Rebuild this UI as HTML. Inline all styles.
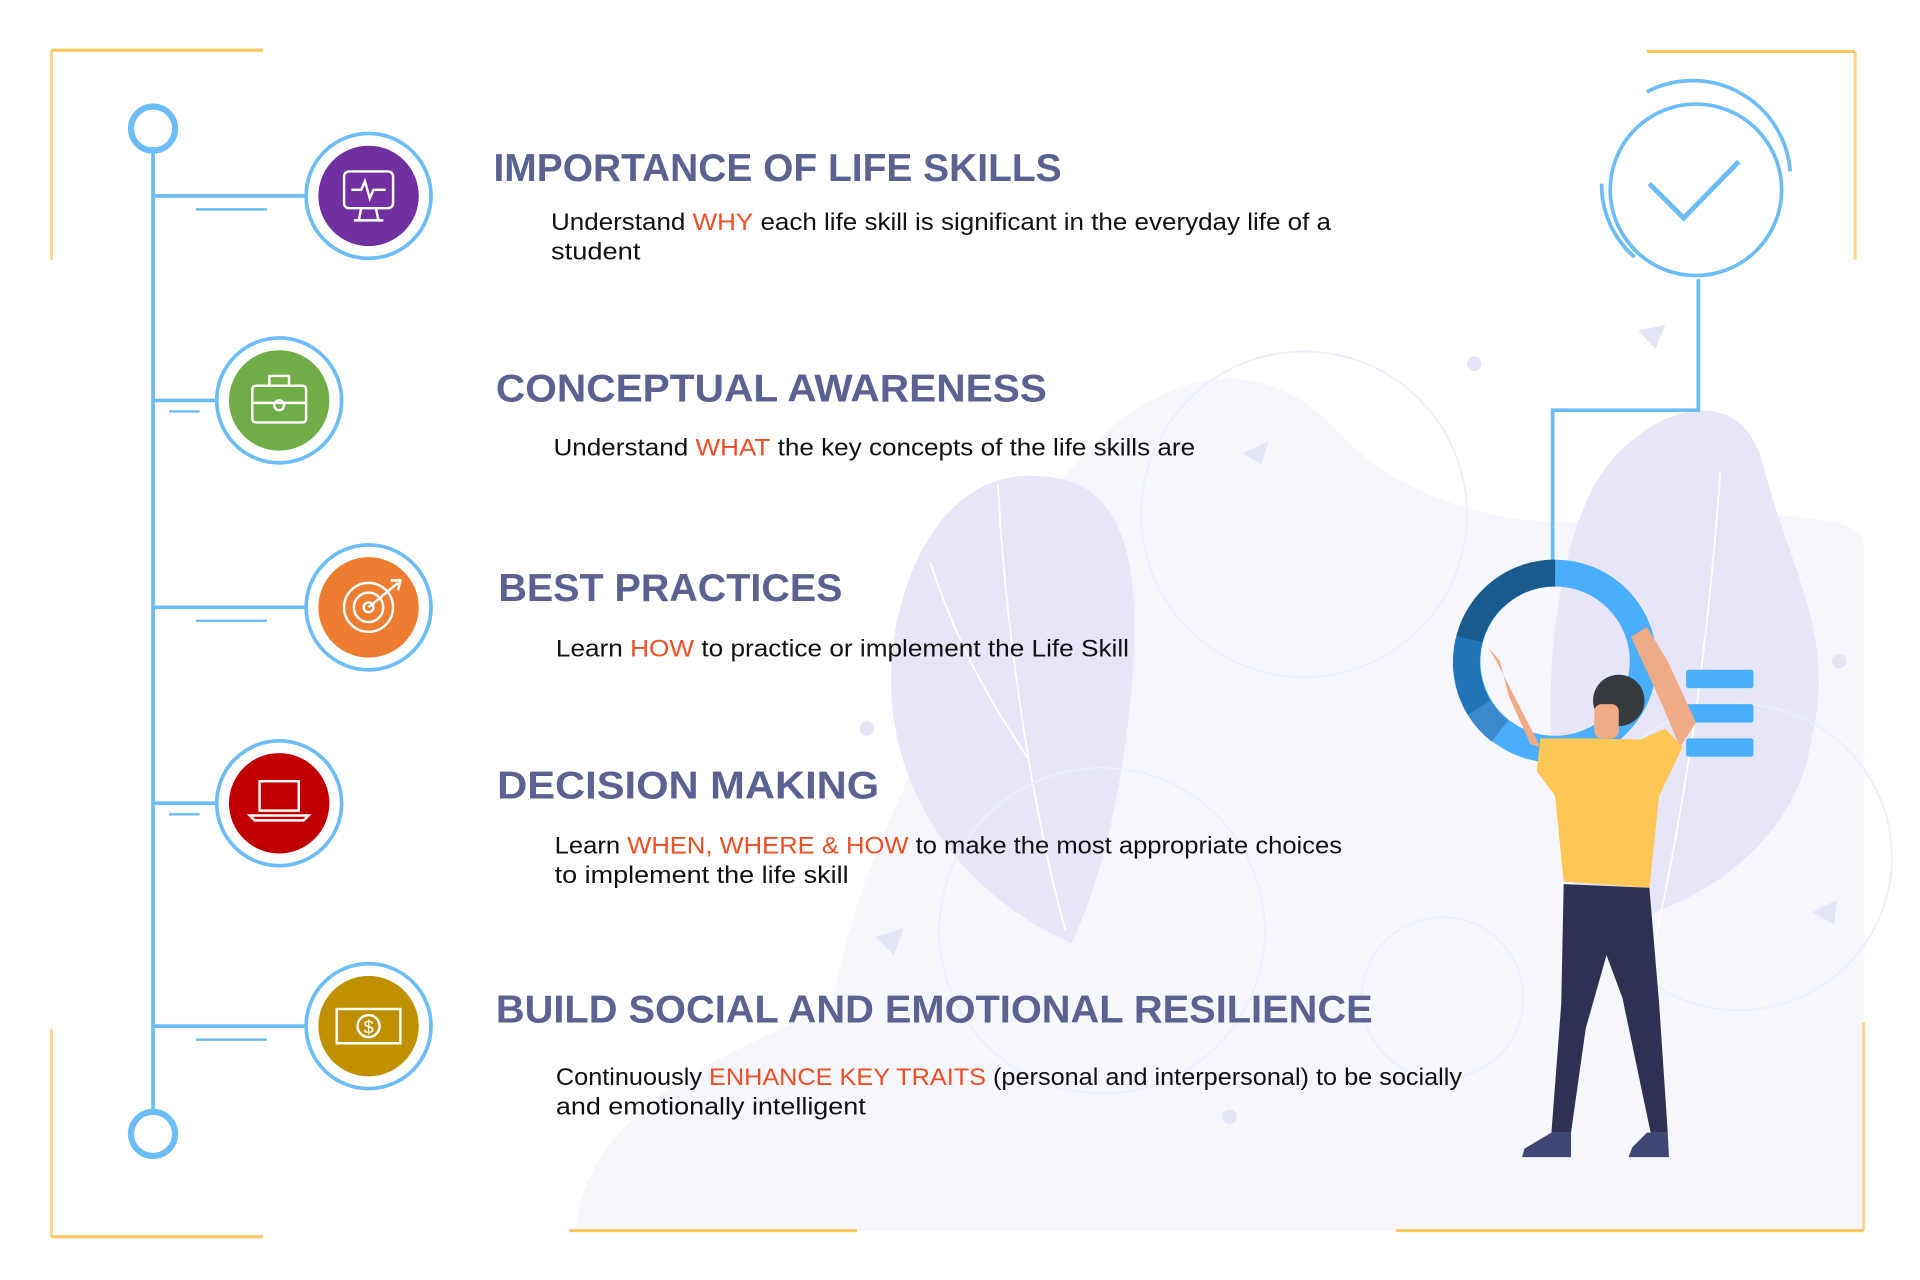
<!DOCTYPE html>
<html><head><meta charset="utf-8"><style>
html,body{margin:0;padding:0;background:#fff}
svg{display:block}
text{font-family:"Liberation Sans",sans-serif}
.t{font-size:32px;fill:#5b6190;font-weight:bold}
.b{font-size:19.5px;fill:#111}
.h{fill:#f04e23}
</style></head><body>
<svg width="1920" height="1280" viewBox="0 0 1568 1045.33" preserveAspectRatio="none" xmlns="http://www.w3.org/2000/svg">
<rect width="1568" height="1046" fill="#fff"/>
<path d="M470 1005 C480 900 600 860 680 820 C700 700 760 600 850 420 C900 330 1000 270 1080 340 C1150 420 1250 440 1380 420 C1450 420 1510 420 1522 440 L1522 1005 Z" fill="#f6f7fd"/>
<path d="M875 770 C760 720 700 600 740 480 C760 420 800 380 860 390 C940 400 930 520 920 600 C910 680 890 740 875 770Z" fill="#e7e6f9"/>
<path d="M840 620 C800 560 780 520 760 460 M815 395 C820 500 840 650 870 760" stroke="#fff" stroke-width="1.5" fill="none"/>
<path d="M1300 760 C1250 650 1260 480 1300 400 C1330 340 1420 300 1440 380 C1460 460 1500 520 1480 600 C1470 680 1400 740 1300 760Z" fill="#e7e6f9"/>
<path d="M1405 385 C1395 520 1380 650 1340 820" stroke="#fff" stroke-width="1.5" fill="none"/>
<circle cx="1065" cy="420" r="133" fill="none" stroke="#eceefa" stroke-width="1.5"/>
<circle cx="900" cy="760" r="133" fill="none" stroke="#eceefa" stroke-width="1.5"/>
<circle cx="1178" cy="815" r="66" fill="none" stroke="#eceefa" stroke-width="1.5"/>
<circle cx="1420" cy="700" r="125" fill="none" stroke="#eceefa" stroke-width="1.5"/>
<circle cx="1204" cy="297" r="6" fill="#e3e4f6"/><circle cx="1004" cy="912" r="6" fill="#e3e4f6"/><circle cx="708" cy="595" r="6" fill="#e3e4f6"/><circle cx="1502" cy="540" r="6" fill="#e3e4f6"/>
<path d="M1338 270 L1360 265 L1352 285Z" fill="#e3e4f6"/><path d="M1015 370 L1036 360 L1030 380Z" fill="#e3e4f6"/><path d="M715 765 L738 758 L730 780Z" fill="#e3e4f6"/><path d="M1480 745 L1500 735 L1498 755Z" fill="#e3e4f6"/>
<g stroke-width="2.5" fill="none" stroke="#fbc45c">
<path d="M42 41 H215"/><path d="M42 41 V212" stroke-opacity="0.7"/>
<path d="M1345 42 H1515"/><path d="M1515 42 V212" stroke-opacity="0.7"/>
<path d="M42 1010 H215"/><path d="M42 840 V1010" stroke-opacity="0.7"/>
<path d="M1522 835 V1005" stroke-opacity="0.7"/><path d="M1140 1005 H1522"/><path d="M465 1005 H700"/>
</g>
<g stroke="#6cbcf5" stroke-width="3" fill="none">
<line x1="125" y1="120" x2="125" y2="910"/>
<circle cx="125" cy="105" r="18" stroke-width="5"/><circle cx="125" cy="926" r="18" stroke-width="5"/>
<path d="M125 160 H249"/><path d="M160 171 H218" stroke-width="2"/>
<path d="M125 327 H176"/><path d="M138 336 H163" stroke-width="2"/>
<path d="M125 496 H249"/><path d="M160 507 H218" stroke-width="2"/>
<path d="M125 656 H176"/><path d="M138 665 H163" stroke-width="2"/>
<path d="M125 838 H249"/><path d="M160 849 H218" stroke-width="2"/>
</g>
<g>
<g transform="translate(301,160)"><circle r="51" fill="none" stroke="#6cbcf5" stroke-width="3"/><circle r="41" fill="#7030a0"/>
<rect x="-20" y="-20" width="40" height="30" rx="4" fill="none" stroke="#fff" stroke-width="2"/><path d="M-6 10 L-8 20 M6 10 L8 20 M-12 20 H12 M-14 -5 H-6 L-3 -12 L1 2 L4 -5 H14" stroke="#fff" stroke-width="2" fill="none"/></g>
<g transform="translate(228,327)"><circle r="51" fill="none" stroke="#6cbcf5" stroke-width="3"/><circle r="41" fill="#70ad47"/>
<rect x="-22" y="-12" width="44" height="30" rx="3" fill="none" stroke="#fff" stroke-width="2"/><rect x="-8" y="-20" width="16" height="8" fill="none" stroke="#fff" stroke-width="2"/><path d="M-22 2 H22" stroke="#fff" stroke-width="2"/><circle r="4" cy="4" fill="none" stroke="#fff" stroke-width="2"/></g>
<g transform="translate(301,496)"><circle r="51" fill="none" stroke="#6cbcf5" stroke-width="3"/><circle r="41" fill="#ed7d31"/>
<circle r="20" fill="none" stroke="#fff" stroke-width="2"/><circle r="12" fill="none" stroke="#fff" stroke-width="2"/><circle r="4" fill="none" stroke="#fff" stroke-width="2"/><path d="M0 0 L24 -20 M18 -22 L26 -22 L24 -14" stroke="#fff" stroke-width="2" fill="none"/></g>
<g transform="translate(228,656)"><circle r="51" fill="none" stroke="#6cbcf5" stroke-width="3"/><circle r="41" fill="#c00000"/>
<rect x="-16" y="-18" width="32" height="24" fill="none" stroke="#fff" stroke-width="2"/><path d="M-24 10 H24 L20 14 H-20Z" fill="none" stroke="#fff" stroke-width="2"/></g>
<g transform="translate(301,838)"><circle r="51" fill="none" stroke="#6cbcf5" stroke-width="3"/><circle r="41" fill="#bf9000"/>
<rect x="-26" y="-14" width="52" height="28" fill="none" stroke="#fff" stroke-width="2"/><circle r="9" fill="none" stroke="#fff" stroke-width="2"/><text x="0" y="6" text-anchor="middle" font-size="15" fill="#fff">$</text></g>
</g>
<text class="t" x="403" y="148" textLength="464" lengthAdjust="spacingAndGlyphs">IMPORTANCE OF LIFE SKILLS</text>
<text class="b" x="450" y="188" textLength="637" lengthAdjust="spacingAndGlyphs">Understand <tspan class="h">WHY</tspan> each life skill is significant in the everyday life of a</text>
<text class="b" x="450" y="212" textLength="73" lengthAdjust="spacingAndGlyphs">student</text>
<text class="t" x="405" y="328" textLength="450" lengthAdjust="spacingAndGlyphs">CONCEPTUAL AWARENESS</text>
<text class="b" x="452" y="372" textLength="524" lengthAdjust="spacingAndGlyphs">Understand <tspan class="h">WHAT</tspan> the key concepts of the life skills are</text>
<text class="t" x="407" y="491" textLength="281" lengthAdjust="spacingAndGlyphs">BEST PRACTICES</text>
<text class="b" x="454" y="536" textLength="468" lengthAdjust="spacingAndGlyphs">Learn <tspan class="h">HOW</tspan> to practice or implement the Life Skill</text>
<text class="t" x="406" y="652" textLength="312" lengthAdjust="spacingAndGlyphs">DECISION MAKING</text>
<text class="b" x="453" y="697" textLength="643" lengthAdjust="spacingAndGlyphs">Learn <tspan class="h">WHEN, WHERE &amp; HOW</tspan> to make the most appropriate choices</text>
<text class="b" x="453" y="721" textLength="240" lengthAdjust="spacingAndGlyphs">to implement the life skill</text>
<text class="t" x="405" y="835" textLength="716" lengthAdjust="spacingAndGlyphs">BUILD SOCIAL AND EMOTIONAL RESILIENCE</text>
<text class="b" x="454" y="886" textLength="740" lengthAdjust="spacingAndGlyphs">Continuously <tspan class="h">ENHANCE KEY TRAITS</tspan> (personal and interpersonal) to be socially</text>
<text class="b" x="454" y="910" textLength="253" lengthAdjust="spacingAndGlyphs">and emotionally intelligent</text>
<g fill="none" stroke="#6cbcf5" stroke-width="3">
<circle cx="1385" cy="155" r="70"/>
<path d="M1345 75 A80 80 0 0 1 1462 140"/><path d="M1308 150 A78 78 0 0 0 1335 210"/>
<path d="M1347 150 L1375 178 L1420 132" stroke-width="4"/>
<path d="M1387 228 V335 H1268 V460"/>
</g>
<g fill="none" stroke-width="22">
<circle cx="1270" cy="540" r="72" stroke="#4aaefc"/>
<path d="M1270 468 A72 72 0 0 0 1200 522" stroke="#1a5a8c"/>
<path d="M1200 522 A72 72 0 0 0 1208 578" stroke="#2274b8"/>
<path d="M1208 578 A72 72 0 0 0 1225 597" stroke="#3b89cc"/>
</g>
<g fill="#4aaefc"><rect x="1377" y="547" width="55" height="15" rx="2"/><rect x="1377" y="575" width="55" height="15" rx="2"/><rect x="1377" y="603" width="55" height="15" rx="2"/></g>
<path d="M1258 610 L1222 540 L1215 528 L1225 540 L1232 568 L1250 608Z" fill="#eeab86"/>
<path d="M1332 520 L1345 512 L1362 540 L1385 590 L1372 610 L1355 570Z" fill="#eeab86"/>
<circle cx="1322" cy="572" r="21" fill="#353a3e"/>
<rect x="1302" y="575" width="20" height="28" rx="6" fill="#eeab86"/>
<path d="M1258 603 L1300 603 L1340 604 L1360 595 L1374 610 L1355 650 L1347 725 L1277 720 L1270 650 L1255 630Z" fill="#fec655"/>
<path d="M1277 722 L1347 725 L1355 820 L1362 925 L1348 925 L1325 815 L1312 780 L1295 840 L1283 925 L1267 925 L1275 820Z" fill="#2e3151"/>
<path d="M1267 925 L1283 925 L1283 945 L1243 945 L1245 938Z" fill="#3f4674"/>
<path d="M1345 925 L1362 925 L1363 945 L1330 945 L1333 937Z" fill="#3f4674"/>
</svg>
</body></html>
